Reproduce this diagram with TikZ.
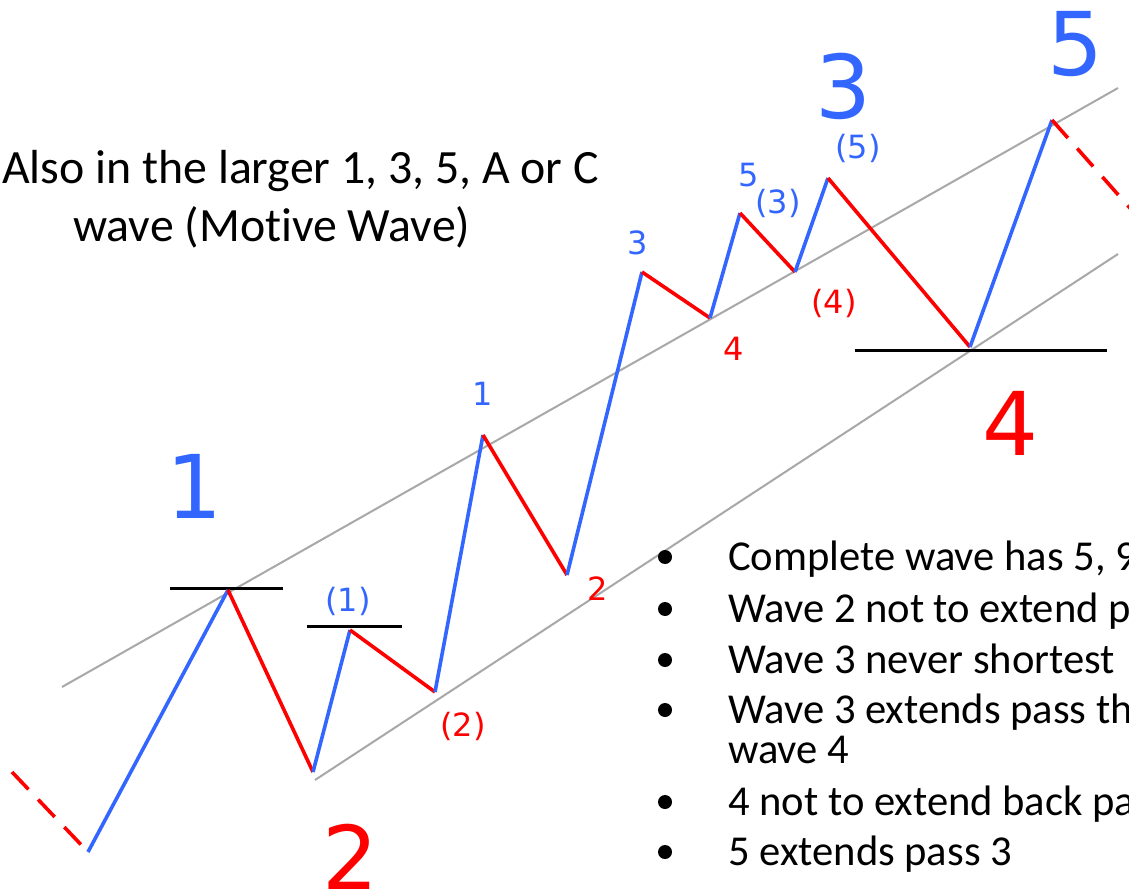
\documentclass[tikz,border=0pt]{standalone}
\usepackage{fontspec}
\setmainfont{Carlito}[Ligatures=CommonOff]
\newfontfamily\labfont{DejaVu Sans}
\definecolor{wblue}{RGB}{51,102,255}
\definecolor{wred}{RGB}{255,0,0}
\definecolor{chgray}{RGB}{168,168,168}
\begin{document}
\begin{tikzpicture}[x=1pt,y=-1pt,
  up/.style={wblue,line width=3.6pt},
  down/.style={wred,line width=3.6pt},
  dashdown/.style={wred,line width=3.6pt,dash pattern=on 24pt off 14pt},
  channel/.style={chgray,line width=2pt},
  level/.style={black,line width=3pt},
  biglab/.style={font=\labfont\fontsize{88}{90}\selectfont,inner sep=0pt,anchor=base},
  smalllab/.style={font=\labfont\fontsize{32}{34}\selectfont,inner sep=0pt,anchor=base},
  headtext/.style={font=\fontsize{47.8}{50}\selectfont,inner sep=0pt,anchor=base west},
  bullettext/.style={font=\fontsize{42.6}{44}\selectfont,inner sep=0pt,anchor=base west},
  bulletdot/.style={circle,fill=black,inner sep=0pt,minimum size=14pt}
]
\clip (0,0) rectangle (1129,890);
\fill[white] (0,0) rectangle (1129,890);

% channel lines
\coordinate (ua) at (62,687);
\coordinate (ub) at (1118,88);
\coordinate (la) at (315,780);
\coordinate (lb) at (1118,254);
\draw[channel] (ua) -- (ub);
\draw[channel] (la) -- (lb);

% level lines
\coordinate (h1a) at (170,588); \coordinate (h1b) at (283,588);
\coordinate (h2a) at (307,626); \coordinate (h2b) at (402,626);
\coordinate (h3a) at (855,350); \coordinate (h3b) at (1107,350);
\draw[level] (h1a) -- (h1b);
\draw[level] (h2a) -- (h2b);
\draw[level] (h3a) -- (h3b);

% wave points
\coordinate (s0) at (12,772);
\coordinate (p0) at (88,852);
\coordinate (p1) at (228,590);
\coordinate (p2) at (313,772);
\coordinate (q1) at (350,630);
\coordinate (q2) at (435,692);
\coordinate (r1) at (483,435);
\coordinate (r2) at (567,575);
\coordinate (r3) at (642,272);
\coordinate (r4) at (710,318);
\coordinate (r5) at (740,213);
\coordinate (t4) at (795,272);
\coordinate (t5) at (828,178);
\coordinate (p4) at (970,347);
\coordinate (p5) at (1052,120);
\coordinate (e0) at (1160,242);

\draw[dashdown] (s0) -- (p0);
\draw[up] (p0) -- (p1);
\draw[down] (p1) -- (p2);
\draw[up] (p2) -- (q1);
\draw[down] (q1) -- (q2);
\draw[up] (q2) -- (r1);
\draw[down] (r1) -- (r2);
\draw[up] (r2) -- (r3);
\draw[down] (r3) -- (r4);
\draw[up] (r4) -- (r5);
\draw[down] (r5) -- (t4);
\draw[up] (t4) -- (t5);
\draw[down] (t5) -- (p4);
\draw[up] (p4) -- (p5);
\draw[dashdown] (p5) -- (e0);

% big labels
\node[biglab,text=wblue] (L1) at (194,518) {1};
\node[biglab,text=wred]  (L2) at (350,889) {2};
\node[biglab,text=wblue] (L3) at (843,119) {3};
\node[biglab,text=wred]  (L4) at (1010,455) {4};
\node[biglab,text=wblue] (L5) at (1075,76) {5};

% small labels
\node[smalllab,text=wblue] (s1) at (483,405) {1};
\node[smalllab,text=wred]  (s2) at (598,600) {2};
\node[smalllab,text=wblue] (s3) at (638,255) {3};
\node[smalllab,text=wred]  (s4) at (734,360) {4};
\node[smalllab,text=wblue] (s5) at (749,187) {5};
\node[smalllab,text=wblue] (c1) at (348,611) {(1)};
\node[smalllab,text=wred]  (c2) at (463,736) {(2)};
\node[smalllab,text=wblue] (c3) at (778,214) {(3)};
\node[smalllab,text=wred]  (c4) at (834,314) {(4)};
\node[smalllab,text=wblue] (c5) at (858,159) {(5)};

% heading
\node[headtext] (head1) at (2,184) {Also in the larger 1, 3, 5, A or C};
\node[headtext] (head2) at (73,242) {wave (Motive Wave)};

% bullets
\node[bullettext] (b1) at (728,570) {Complete wave has 5, 9};
\node[bullettext] (b2) at (728,622) {Wave 2 not to extend p};
\node[bullettext] (b3) at (728,673) {Wave 3 never shortest};
\node[bullettext] (b4) at (728,723) {Wave 3 extends pass th};
\node[bullettext] (b4b) at (728,763) {wave 4};
\node[bullettext] (b5) at (728,815) {4 not to extend back pa};
\node[bullettext] (b6) at (728,865) {5 extends pass 3};
\node[bulletdot] (d1) at (665,557) {};
\node[bulletdot] (d2) at (665,609) {};
\node[bulletdot] (d3) at (665,660) {};
\node[bulletdot] (d4) at (665,710) {};
\node[bulletdot] (d5) at (665,802) {};
\node[bulletdot] (d6) at (665,852) {};
\end{tikzpicture}
\end{document}
